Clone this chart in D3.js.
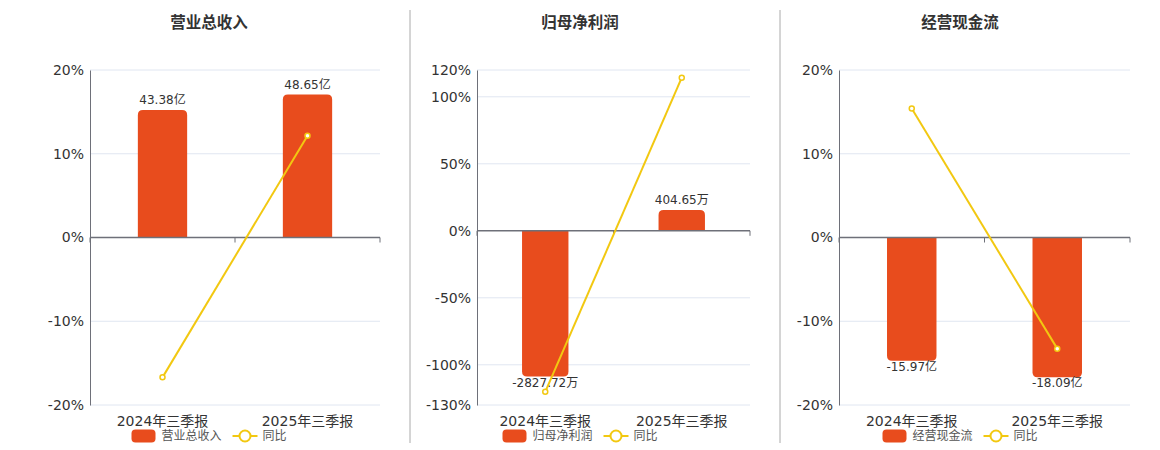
<!DOCTYPE html>
<html><head><meta charset="utf-8">
<script src="https://cdn.jsdelivr.net/npm/d3@7"></script>
<style>body{margin:0;background:#fff;}svg{display:block;font-family:"DejaVu Sans","Noto Sans CJK SC",sans-serif;}</style>
</head><body>
<svg id="c" width="1160" height="450"></svg>
<script>
const categories = ["2024年三季报", "2025年三季报"];
const titles = ["营业总收入", "归母净利润", "经营现金流"];
const revenueValues = [43.38, 48.65];
const revenueLabels = ["43.38亿", "48.65亿"];
const revenueYoY = [-16.7, 12.15];
const revenueTicks = [-20, -10, 0, 10, 20];
const profitValues = [-2827.72, 404.65];
const profitLabels = ["-2827.72万", "404.65万"];
const profitYoY = [-120.2, 114.3];
const profitTicks = [-130, -100, -50, 0, 50, 100, 120];
const cashValues = [-15.97, -18.09];
const cashLabels = ["-15.97亿", "-18.09亿"];
const cashYoY = [15.4, -13.27];
const cashTicks = [-20, -10, 0, 10, 20];
const yoyName = "同比";

const BAR = "#e84c1d", LINE = "#f2c811", AXIS = "#6e7079", GRID = "#e0e6f1", TXT = "#333";

const panels = [
  {title: titles[0], values: revenueValues, labels: revenueLabels, yoy: revenueYoY, ticks: revenueTicks, barDom: [-57, 57], left: 90, right: 380, cx: 209},
  {title: titles[1], values: profitValues, labels: profitLabels, yoy: profitYoY, ticks: profitTicks, barDom: [-3380, 3120], left: 477, right: 750, cx: 580},
  {title: titles[2], values: cashValues, labels: cashLabels, yoy: cashYoY, ticks: cashTicks, barDom: [-21.7, 21.7], left: 839, right: 1130, cx: 960}
];
const plotTop = 70, plotBottom = 405;
const svg = d3.select("#c");

[410, 780].forEach(x => svg.append("line").attr("x1", x).attr("x2", x).attr("y1", 10).attr("y2", 443)
  .attr("stroke", "#aaa").attr("stroke-width", 1));

function roundedBar(x, w, y0, y1, r) {
  const h = Math.abs(y1 - y0);
  r = Math.min(r, h, w / 2);
  const p = d3.path();
  if (y1 < y0) {
    p.moveTo(x, y0); p.lineTo(x, y1 + r); p.quadraticCurveTo(x, y1, x + r, y1);
    p.lineTo(x + w - r, y1); p.quadraticCurveTo(x + w, y1, x + w, y1 + r); p.lineTo(x + w, y0); p.closePath();
  } else {
    p.moveTo(x, y0); p.lineTo(x, y1 - r); p.quadraticCurveTo(x, y1, x + r, y1);
    p.lineTo(x + w - r, y1); p.quadraticCurveTo(x + w, y1, x + w, y1 - r); p.lineTo(x + w, y0); p.closePath();
  }
  return p.toString();
}

panels.forEach(pn => {
  const g = svg.append("g");
  const ext = d3.extent(pn.ticks);
  const y = d3.scaleLinear().domain(ext).range([plotBottom, plotTop]);
  const yb = d3.scaleLinear().domain(pn.barDom).range([plotBottom, plotTop]);
  const x = d3.scaleBand().domain(categories).range([pn.left, pn.right]);
  const bw = x.bandwidth() * 0.34;

  g.append("text").attr("x", pn.cx).attr("y", 28).attr("text-anchor", "middle")
    .attr("font-size", 15.5).attr("font-weight", "bold").attr("fill", TXT).text(pn.title);

  g.selectAll(".grid").data(pn.ticks.filter(t => t !== 0)).join("line")
    .attr("x1", pn.left).attr("x2", pn.right).attr("y1", d => y(d)).attr("y2", d => y(d))
    .attr("stroke", GRID).attr("stroke-width", 1);

  const ya = d3.axisLeft(y).tickValues(pn.ticks).tickFormat(d => d + "%").tickSize(0).tickPadding(6);
  const yg = g.append("g").attr("transform", `translate(${pn.left},0)`).call(ya);
  yg.select(".domain").attr("stroke", AXIS);
  yg.selectAll("text").attr("font-size", 14).attr("fill", TXT).attr("font-family", "DejaVu Sans");

  categories.forEach((c, i) => {
    const v = pn.values[i];
    const bx = x(c) + (x.bandwidth() - bw) / 2;
    g.append("path").attr("d", roundedBar(bx, bw, yb(0), yb(v), 5)).attr("fill", BAR);
    const ly = v >= 0 ? yb(v) - 6 : yb(v) + 10;
    g.append("text").attr("x", x(c) + x.bandwidth() / 2).attr("y", ly).attr("text-anchor", "middle")
      .attr("font-size", 12).attr("fill", TXT).text(pn.labels[i]);
  });

  const y0 = y(0);
  g.append("line").attr("x1", pn.left).attr("x2", pn.right).attr("y1", y0).attr("y2", y0)
    .attr("stroke", AXIS).attr("stroke-width", 1.5);
  const tickXs = [pn.left, ...categories.slice(1).map(c => x(c)), pn.right];
  tickXs.forEach(tx => g.append("line").attr("x1", tx).attr("x2", tx).attr("y1", y0).attr("y2", y0 + 5)
    .attr("stroke", AXIS).attr("stroke-width", 1));

  categories.forEach(c => g.append("text").attr("x", x(c) + x.bandwidth() / 2).attr("y", 426)
    .attr("text-anchor", "middle").attr("font-size", 14).attr("fill", TXT).text(c));

  const line = d3.line().x((d, i) => x(categories[i]) + x.bandwidth() / 2).y(d => y(d));
  g.append("path").attr("d", line(pn.yoy)).attr("fill", "none").attr("stroke", LINE).attr("stroke-width", 2);
  pn.yoy.forEach((v, i) => g.append("circle").attr("cx", x(categories[i]) + x.bandwidth() / 2).attr("cy", y(v))
    .attr("r", 2.5).attr("fill", "#fff").attr("stroke", LINE).attr("stroke-width", 1.5));

  const lg = g.append("g");
  const tw = pn.title.length * 12;
  const total = 24 + 6 + tw + 11 + 25 + 5 + 24;
  let lx = pn.cx - total / 2;
  const ly = 436;
  lg.append("rect").attr("x", lx).attr("y", ly - 6.5).attr("width", 24).attr("height", 13).attr("rx", 4).attr("fill", BAR);
  lx += 30;
  lg.append("text").attr("x", lx).attr("y", ly).attr("dominant-baseline", "central").attr("font-size", 12).attr("fill", "#555").text(pn.title);
  lx += tw + 11;
  lg.append("line").attr("x1", lx).attr("x2", lx + 25).attr("y1", ly).attr("y2", ly).attr("stroke", LINE).attr("stroke-width", 2);
  lg.append("circle").attr("cx", lx + 12.5).attr("cy", ly).attr("r", 5.5).attr("fill", "#fff").attr("stroke", LINE).attr("stroke-width", 2);
  lx += 30;
  lg.append("text").attr("x", lx).attr("y", ly).attr("dominant-baseline", "central").attr("font-size", 12).attr("fill", "#555").text(yoyName);
});
</script>
</body></html>
